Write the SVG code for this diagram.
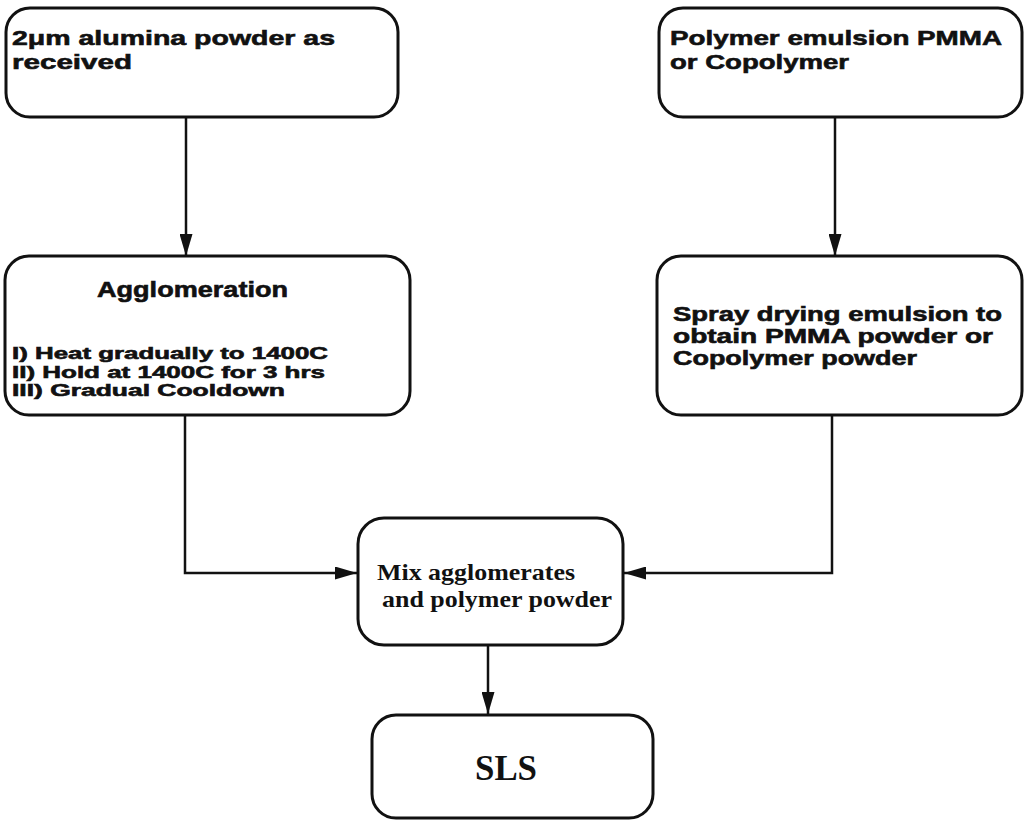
<svg xmlns="http://www.w3.org/2000/svg" width="1025" height="821" viewBox="0 0 1025 821">
<style>
.box{fill:#fff;stroke:#111;stroke-width:3}
.sans{font-family:"Liberation Sans",Arial,sans-serif;font-weight:bold;fill:#111;stroke:#111;stroke-width:0.6}
.serif{font-family:"Liberation Serif","Times New Roman",serif;font-weight:bold;fill:#111}
.con{fill:none;stroke:#111;stroke-width:2.5}
</style>
<defs>
<marker id="arr" viewBox="0 0 22 13" refX="22" refY="6.5" markerWidth="22" markerHeight="13" markerUnits="userSpaceOnUse" orient="auto">
<path d="M0,0 L22,6.5 L0,13 Z" fill="#111"/>
</marker>
</defs>
<rect width="1025" height="821" fill="#fff"/>
<g id="connectors">
<line class="con" x1="186" y1="117" x2="186" y2="256" marker-end="url(#arr)"/>
<line class="con" x1="835" y1="117" x2="835" y2="256" marker-end="url(#arr)"/>
<polyline class="con" points="185,415 185,573 357,573" marker-end="url(#arr)"/>
<polyline class="con" points="832,415 832,573 624,573" marker-end="url(#arr)"/>
<line class="con" x1="488" y1="645" x2="488" y2="714" marker-end="url(#arr)"/>
</g>
<g id="node-alumina">
<rect class="box" x="6" y="8" width="392" height="109" rx="24"/>
<text class="sans" font-size="21" x="12" y="45" textLength="323" lengthAdjust="spacingAndGlyphs">2μm alumina powder as</text>
<text class="sans" font-size="21" x="12" y="69" textLength="120" lengthAdjust="spacingAndGlyphs">received</text>
</g>
<g id="node-polymer">
<rect class="box" x="659" y="8" width="363" height="109" rx="24"/>
<text class="sans" font-size="21" x="670" y="45" textLength="332" lengthAdjust="spacingAndGlyphs">Polymer emulsion  PMMA</text>
<text class="sans" font-size="21" x="670" y="69" textLength="179" lengthAdjust="spacingAndGlyphs">or Copolymer</text>
</g>
<g id="node-agglomeration">
<rect class="box" x="5" y="256" width="405" height="159" rx="24"/>
<text class="sans" font-size="22" x="97" y="297" textLength="191" lengthAdjust="spacingAndGlyphs">Agglomeration</text>
<text class="sans" font-size="16.5" x="12" y="359" textLength="316" lengthAdjust="spacingAndGlyphs">I) Heat gradually to 1400C</text>
<text class="sans" font-size="16.5" x="12" y="377.5" textLength="313" lengthAdjust="spacingAndGlyphs">II) Hold at 1400C for 3 hrs</text>
<text class="sans" font-size="16.5" x="12" y="396" textLength="273" lengthAdjust="spacingAndGlyphs">III) Gradual Cooldown</text>
</g>
<g id="node-spray">
<rect class="box" x="657" y="256" width="365" height="159" rx="24"/>
<text class="sans" font-size="19.5" x="673" y="321" textLength="329" lengthAdjust="spacingAndGlyphs">Spray drying emulsion to</text>
<text class="sans" font-size="19.5" x="673" y="343" textLength="320" lengthAdjust="spacingAndGlyphs">obtain PMMA powder or</text>
<text class="sans" font-size="19.5" x="673" y="365" textLength="244" lengthAdjust="spacingAndGlyphs">Copolymer powder</text>
</g>
<g id="node-mix">
<rect class="box" x="358" y="518" width="265" height="127" rx="26"/>
<text class="serif" font-size="24" x="377" y="580" textLength="198" lengthAdjust="spacingAndGlyphs">Mix  agglomerates</text>
<text class="serif" font-size="24" x="382" y="607" textLength="230" lengthAdjust="spacingAndGlyphs">and polymer powder</text>
</g>
<g id="node-sls">
<rect class="box" x="372" y="715" width="281" height="103" rx="24"/>
<text class="serif" font-size="36" x="475" y="780" textLength="62" lengthAdjust="spacingAndGlyphs">SLS</text>
</g>
</svg>
